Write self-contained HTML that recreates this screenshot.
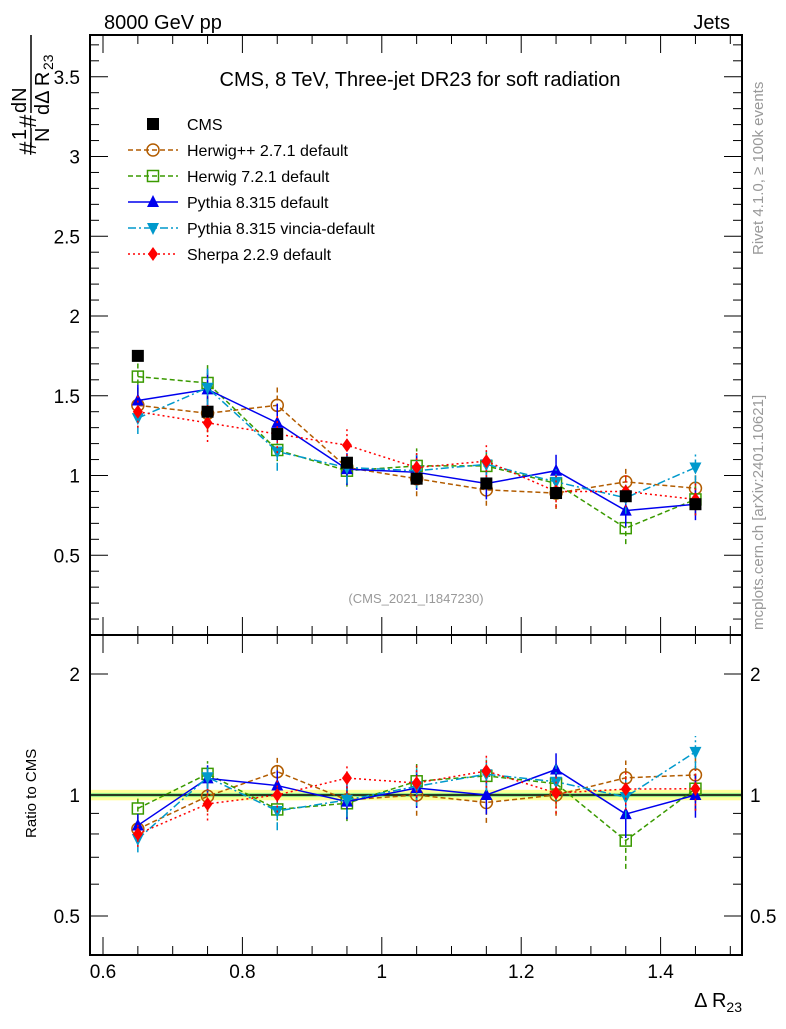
<!DOCTYPE html>
<html><head><meta charset="utf-8"><style>
body{margin:0;background:#fff;font-family:"Liberation Sans",sans-serif}
svg text{font-family:"Liberation Sans",sans-serif}
</style></head><body>
<svg id="c" width="786" height="1024" viewBox="0 0 786 1024" xmlns="http://www.w3.org/2000/svg">
<text x="104" y="29" font-size="20">8000 GeV pp</text>
<text x="730" y="29" font-size="20" text-anchor="end">Jets</text>
<text x="420" y="86" font-size="20" text-anchor="middle">CMS, 8 TeV, Three-jet DR23 for soft radiation</text>
<text x="416" y="603" font-size="13" fill="#999" text-anchor="middle">(CMS_2021_I1847230)</text>
<text transform="translate(763,255) rotate(-90)" font-size="15" fill="#999">Rivet 4.1.0, ≥ 100k events</text>
<text transform="translate(763,630) rotate(-90)" font-size="15" fill="#999">mcplots.cern.ch [arXiv:2401.10621]</text>
<g>
<text transform="translate(36,155) rotate(-90)" font-size="24">#</text>
<text transform="translate(26,140) rotate(-90)" font-size="20">1</text>
<text transform="translate(49,142) rotate(-90)" font-size="20">N</text>
<line x1="31" x2="31" y1="128" y2="148" stroke="#000" stroke-width="1.5"/>
<text transform="translate(36,128) rotate(-90)" font-size="24">#</text>
<text transform="translate(26,113) rotate(-90)" font-size="20">dN</text>
<text transform="translate(49,115) rotate(-90)" font-size="20">dΔ R</text>
<text transform="translate(53,70) rotate(-90)" font-size="14">23</text>
<line x1="31" x2="31" y1="35" y2="113" stroke="#000" stroke-width="1.5"/>
</g>
<text transform="translate(36,838) rotate(-90)" font-size="15">Ratio to CMS</text>
<text x="742" y="1007" font-size="20" text-anchor="end">Δ R<tspan font-size="14" dy="5">23</tspan></text>
<g id="g"></g>
</svg>
<script>
const xs=[0.65,0.75,0.85,0.95,1.05,1.15,1.25,1.35,1.45];
const cms=[1.75,1.40,1.26,1.08,0.98,0.95,0.89,0.87,0.82];
const cmsErr=[0.02,0.02,0.02,0.02,0.02,0.02,0.02,0.02,0.02];
const herwigpp=[1.44,1.39,1.44,1.05,0.98,0.91,0.89,0.96,0.92];
const herwig7=[1.62,1.58,1.16,1.03,1.06,1.06,0.95,0.67,0.85];
const pythia=[1.47,1.54,1.33,1.04,1.02,0.95,1.03,0.78,0.82];
const vincia=[1.36,1.55,1.15,1.05,1.03,1.07,0.96,0.86,1.05];
const sherpa=[1.40,1.33,1.26,1.19,1.05,1.09,0.90,0.90,0.85];
const mcErr=[0.1,0.12,0.12,0.1,0.11,0.1,0.1,0.1,0.1];
const mainTicks=[0.5,1,1.5,2,2.5,3,3.5];
const ratioTicks=[0.5,1,2];
const xTicks=[0.6,0.8,1,1.2,1.4];

const L=90,R=742,T=35,M=635,B=955;
const X=v=>103+(v-0.6)*697;
const Y=v=>635-v*159.5;
const YR=v=>795-Math.log10(v)*402;
const NS="http://www.w3.org/2000/svg";
const g=document.getElementById('g');
function el(t,a,p){const e=document.createElementNS(NS,t);for(const k in a)e.setAttribute(k,a[k]);(p||g).appendChild(e);return e;}

let band=el('rect',{x:L,y:YR(1.03),width:R-L,height:YR(0.97)-YR(1.03),fill:'#ffff99'});


let band2=el('rect',{x:L,y:YR(1.012),width:R-L,height:YR(0.988)-YR(1.012),fill:'#99ee88'});


let one=el('line',{x1:L,x2:R,y1:YR(1),y2:YR(1),stroke:'#000','stroke-width':1.5});



let f1=el('rect',{x:L,y:T,width:R-L,height:M-T,fill:'none',stroke:'#000','stroke-width':2});


let f2=el('rect',{x:L,y:M,width:R-L,height:B-M,fill:'none',stroke:'#000','stroke-width':2});



for(let i=0;i<=37;i++){const v=i/10,y=Y(v);const maj=i%5==0;const len=maj?18:9;
 el('line',{x1:L,x2:L+len,y1:y,y2:y,stroke:'#000'});el('line',{x1:R,x2:R-len,y1:y,y2:y,stroke:'#000'});}
mainTicks.forEach(v=>{const t=el('text',{x:80,y:Y(v)+7,'font-size':19,'text-anchor':'end'});t.textContent=v;
 
 });
[0.4,0.5,0.6,0.7,0.8,0.9,1,2].forEach(v=>{const y=YR(v);const maj=ratioTicks.includes(v);const len=maj?18:9;
 el('line',{x1:L,x2:L+len,y1:y,y2:y,stroke:'#000'});el('line',{x1:R,x2:R-len,y1:y,y2:y,stroke:'#000'});});
ratioTicks.forEach(v=>{const t=el('text',{x:80,y:YR(v)+7,'font-size':19,'text-anchor':'end'});t.textContent=v;
 
 
 const t2=el('text',{x:750,y:YR(v)+7,'font-size':19});t2.textContent=v;
 
 });
for(let i=0;i<=19;i++){const v=0.6+i*0.05,x=X(v);if(x>R)break;const maj=i%4==0;const len=maj?18:9;
 [[B,-1],[T,1],[M,-1],[M,1]].forEach(([y0,d])=>el('line',{x1:x,x2:x,y1:y0,y2:y0+d*len,stroke:'#000'}));}
xTicks.forEach(v=>{const t=el('text',{x:X(v),y:978,'font-size':19,'text-anchor':'middle'});t.textContent=v;
 
 });

function marker(type,x,y,c,p){
 if(type=='sq')return el('rect',{x:x-6,y:y-6,width:12,height:12,fill:'#000'},p);
 if(type=='osq')return el('rect',{x:x-5.5,y:y-5.5,width:11,height:11,fill:'none',stroke:c,'stroke-width':1.5},p);
 if(type=='oc')return el('circle',{cx:x,cy:y,r:6,fill:'none',stroke:c,'stroke-width':1.5},p);
 if(type=='tu')return el('polygon',{points:`${x},${y-7} ${x-6},${y+5} ${x+6},${y+5}`,fill:c},p);
 if(type=='td')return el('polygon',{points:`${x},${y+7} ${x-6},${y-5} ${x+6},${y-5}`,fill:c},p);
 if(type=='dm')return el('polygon',{points:`${x},${y-7} ${x-5},${y} ${x},${y+7} ${x+5},${y}`,fill:c},p);
}
const series=[
 {n:'herwigpp',lab:'Herwig++ 2.7.1 default',d:herwigpp,c:'#b25c00',m:'oc',da:'5,3'},
 {n:'herwig7',lab:'Herwig 7.2.1 default',d:herwig7,c:'#3a9a00',m:'osq',da:'5,3'},
 {n:'pythia',lab:'Pythia 8.315 default',d:pythia,c:'#0000ee',m:'tu',da:''},
 {n:'vincia',lab:'Pythia 8.315 vincia-default',d:vincia,c:'#0099cc',m:'td',da:'8,3,2,3'},
 {n:'sherpa',lab:'Sherpa 2.2.9 default',d:sherpa,c:'#ff0000',m:'dm',da:'2,3'}];
series.forEach(s=>{
 const grp=el('g',{});
 
 
 const rg=el('g',{});
 
 
 el('polyline',{points:xs.map((x,i)=>X(x)+','+Y(s.d[i])).join(' '),fill:'none',stroke:s.c,'stroke-width':1.5,'stroke-dasharray':s.da},grp);
 el('polyline',{points:xs.map((x,i)=>X(x)+','+YR(s.d[i]/cms[i])).join(' '),fill:'none',stroke:s.c,'stroke-width':1.5,'stroke-dasharray':s.da},rg);
 xs.forEach((x,i)=>{const px=X(x);
  el('line',{x1:px,x2:px,y1:Y(s.d[i]-mcErr[i]),y2:Y(s.d[i]+mcErr[i]),stroke:s.c,'stroke-width':1.5,'stroke-dasharray':s.da},grp);
  const r=s.d[i]/cms[i],re=mcErr[i]/cms[i];
  el('line',{x1:px,x2:px,y1:YR(r-re),y2:YR(r+re),stroke:s.c,'stroke-width':1.5,'stroke-dasharray':s.da},rg);
  const m1=marker(s.m,px,Y(s.d[i]),s.c,grp);
  
  
  const m2=marker(s.m,px,YR(r),s.c,rg);
  
  
 });
});
const cg=el('g',{});


xs.forEach((x,i)=>{el('line',{x1:X(x),x2:X(x),y1:Y(cms[i]-cmsErr[i]),y2:Y(cms[i]+cmsErr[i]),stroke:'#000'},cg);
 const m=marker('sq',X(x),Y(cms[i]),'#000',cg);
 
 });
const lg=el('g',{});


const le0=el('g',{},lg);


marker('sq',153,124,'#000',le0);
const lt0=el('text',{x:187,y:130,'font-size':16},le0);lt0.textContent='CMS';
series.forEach((s,i)=>{const y=150+i*26;
 const e=el('g',{},lg);
 
 
 el('line',{x1:128,x2:178,y1:y,y2:y,stroke:s.c,'stroke-width':1.5,'stroke-dasharray':s.da},e);
 marker(s.m,153,y,s.c,e);
 const t=el('text',{x:187,y:y+6,'font-size':16},e);t.textContent=s.lab;});
</script>
</body></html>
